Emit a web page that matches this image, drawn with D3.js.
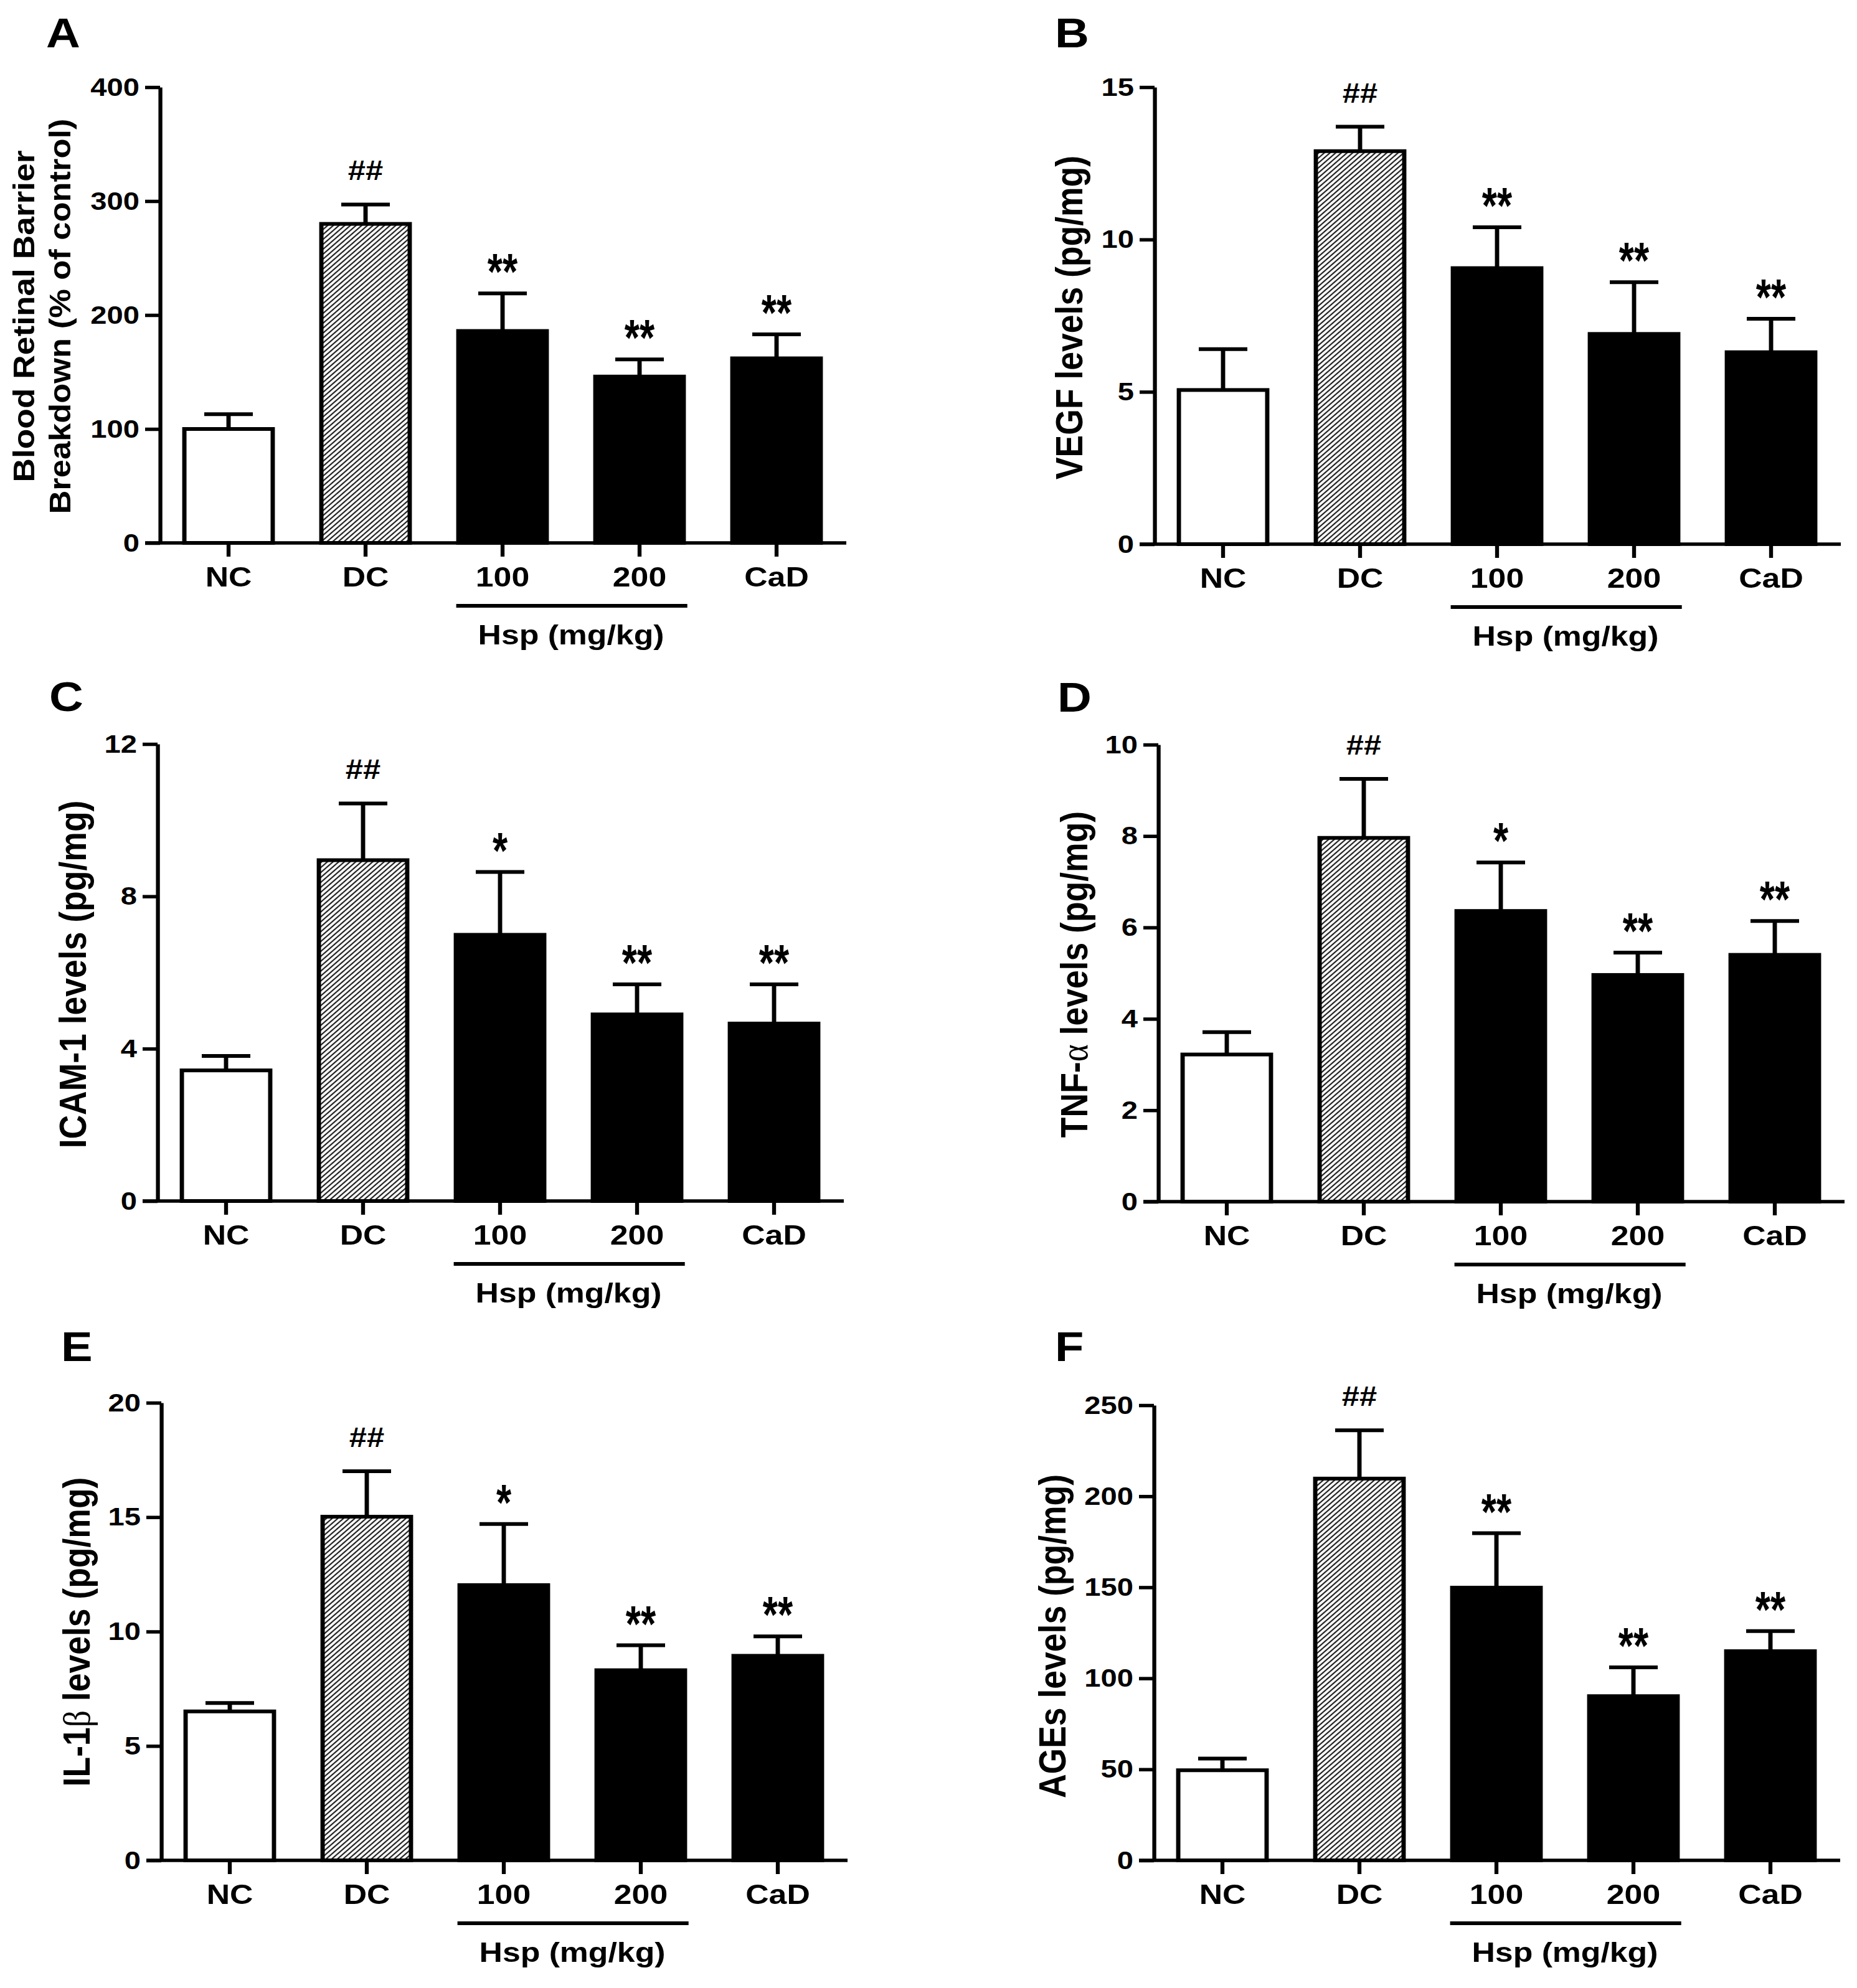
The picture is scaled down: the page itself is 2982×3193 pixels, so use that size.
<!DOCTYPE html>
<html><head><meta charset="utf-8">
<script src="https://cdn.jsdelivr.net/npm/d3@7"></script>
<style>
body{margin:0;background:#fff}
text{font-family:"Liberation Sans",Arial,Helvetica,sans-serif;font-weight:bold;fill:#000}
</style>
</head><body>
<svg id="chart" width="2982" height="3193"></svg>
<script>
// ---------------- data ----------------
const categories = ["NC", "DC", "100", "200", "CaD"];
const groupLabel = "Hsp (mg/kg)";

// A: Blood retinal barrier breakdown (% of control)
const brbMean = [100, 280, 186, 146, 162];
const brbSem  = [13, 17, 33, 15, 21];
const brbTicks = [0, 100, 200, 300, 400];
const brbMarks = ["", "##", "**", "**", "**"];

// B: VEGF (pg/mg)
const vegfMean = [5.06, 12.9, 9.06, 6.9, 6.3];
const vegfSem  = [1.34, 0.8, 1.34, 1.7, 1.1];
const vegfTicks = [0, 5, 10, 15];
const vegfMarks = ["", "##", "**", "**", "**"];

// C: ICAM-1 (pg/mg)
const icamMean = [3.43, 8.95, 6.99, 4.9, 4.66];
const icamSem  = [0.38, 1.49, 1.65, 0.79, 1.03];
const icamTicks = [0, 4, 8, 12];
const icamMarks = ["", "##", "*", "**", "**"];

// D: TNF-alpha (pg/mg)
const tnfMean = [3.22, 7.96, 6.36, 4.96, 5.40];
const tnfSem  = [0.49, 1.29, 1.06, 0.49, 0.74];
const tnfTicks = [0, 2, 4, 6, 8, 10];
const tnfMarks = ["", "##", "*", "**", "**"];

// E: IL-1beta (pg/mg)
const il1Mean = [6.51, 15.02, 12.03, 8.31, 8.94];
const il1Sem  = [0.37, 1.99, 2.67, 1.09, 0.85];
const il1Ticks = [0, 5, 10, 15, 20];
const il1Marks = ["", "##", "*", "**", "**"];

// F: AGEs (pg/mg)
const agesMean = [49.5, 209.7, 149.8, 90.2, 114.9];
const agesSem  = [6.4, 26.5, 29.9, 15.8, 11.0];
const agesTicks = [0, 50, 100, 150, 200, 250];
const agesMarks = ["", "##", "**", "**", "**"];

const panels = [
  {id:"A", mean:brbMean, sem:brbSem, ticks:brbTicks, marks:brbMarks,
   title:[["Blood Retinal Barrier"], ["Breakdown (% of control)"]]},
  {id:"B", mean:vegfMean, sem:vegfSem, ticks:vegfTicks, marks:vegfMarks,
   title:[["VEGF levels (pg/mg)"]]},
  {id:"C", mean:icamMean, sem:icamSem, ticks:icamTicks, marks:icamMarks,
   title:[["ICAM-1 levels (pg/mg)"]]},
  {id:"D", mean:tnfMean, sem:tnfSem, ticks:tnfTicks, marks:tnfMarks,
   title:[["TNF-", "α", " levels (pg/mg)"]]},
  {id:"E", mean:il1Mean, sem:il1Sem, ticks:il1Ticks, marks:il1Marks,
   title:[["IL-1", "β", " levels (pg/mg)"]]},
  {id:"F", mean:agesMean, sem:agesSem, ticks:agesTicks, marks:agesMarks,
   title:[["AGEs levels (pg/mg)"]]}
];

// ---------------- layout (screen px) ----------------
const SX = 1.15; // horizontal stretch of the original figure
const layout = {
  A:{ax:257,  top:140,  y0:872,  letter:[74,76],     titleX:[55,113], titleY:508, titleLen:[533,635], titleSize:41},
  B:{ax:1854, top:140,  y0:874,  letter:[1694,76],   titleX:[1738],   titleY:510},
  C:{ax:253,  top:1195, y0:1929, letter:[79,1142],   titleX:[138],    titleY:1565},
  D:{ax:1860, top:1196, y0:1930, letter:[1698,1143], titleX:[1746],   titleY:1565},
  E:{ax:259,  top:2253, y0:2988, letter:[98,2186],   titleX:[144],    titleY:2621},
  F:{ax:1853, top:2257, y0:2988, letter:[1694,2186], titleX:[1711],   titleY:2628}
};
const fills = ["#fff", "url(#hatch)", "#000", "#000", "#000"];

const svg = d3.select("#chart");
svg.append("rect").attr("width", 2982).attr("height", 3193).attr("fill", "#fff");
const defs = svg.append("defs");
const hs = 5.6;
const pat = defs.append("pattern").attr("id", "hatch")
  .attr("patternUnits", "userSpaceOnUse").attr("width", hs).attr("height", hs)
  .attr("patternTransform", "rotate(45)");
pat.append("rect").attr("width", hs).attr("height", hs).attr("fill", "#fff");
pat.append("line").attr("x1", hs/2).attr("y1", -1).attr("x2", hs/2).attr("y2", hs+1)
  .attr("stroke", "#000").attr("stroke-width", 1.8);

const root = svg.append("g").attr("transform", `scale(${SX},1)`);

const AX_W = 5.5, BAR_W = 6, ERR_W = 6;

panels.forEach(p => {
  const L = layout[p.id];
  const g = root.append("g");
  const ymax = p.ticks[p.ticks.length - 1];
  const x = d3.scaleBand().domain(categories)
    .range([L.ax / SX, (L.ax + 1100) / SX])
    .paddingInner(0.355).paddingOuter(0.1775);
  const y = d3.scaleLinear().domain([0, ymax]).range([L.y0, L.top]);
  const bw = x.bandwidth();
  const cx = c => x(c) + bw / 2;

  // bars
  g.selectAll("rect.bar").data(p.mean).join("rect").attr("class", "bar")
    .attr("x", (d, i) => x(categories[i]))
    .attr("y", d => y(d))
    .attr("width", bw)
    .attr("height", d => L.y0 - y(d))
    .attr("fill", (d, i) => fills[i])
    .attr("stroke", "#000").attr("stroke-width", BAR_W);

  // error bars (upper only)
  const capHalf = 39 / SX;
  const eb = g.selectAll("g.err").data(p.mean).join("g").attr("class", "err");
  eb.append("line")
    .attr("x1", (d, i) => cx(categories[i])).attr("x2", (d, i) => cx(categories[i]))
    .attr("y1", d => y(d)).attr("y2", (d, i) => y(d + p.sem[i]))
    .attr("stroke", "#000").attr("stroke-width", ERR_W);
  eb.append("line")
    .attr("x1", (d, i) => cx(categories[i]) - capHalf).attr("x2", (d, i) => cx(categories[i]) + capHalf)
    .attr("y1", (d, i) => y(d + p.sem[i])).attr("y2", (d, i) => y(d + p.sem[i]))
    .attr("stroke", "#000").attr("stroke-width", ERR_W);

  // significance marks
  p.marks.forEach((m, i) => {
    if (!m) return;
    const capY = y(p.mean[i] + p.sem[i]);
    const c = cx(categories[i]);
    if (m[0] === "#") {
      g.append("text").attr("x", c).attr("y", capY - 39)
        .attr("text-anchor", "middle").attr("font-size", 44).text(m);
    } else {
      g.append("text").attr("transform", `translate(${c},${capY - 7}) scale(1,1.5)`)
        .attr("text-anchor", "middle").attr("font-size", 54).text(m);
    }
  });

  // y axis
  const yAxis = g.append("g").attr("transform", `translate(${L.ax / SX},0)`)
    .call(d3.axisLeft(y).tickValues(p.ticks).tickSize(24 / SX).tickSizeOuter(0).tickPadding(9 / SX));
  yAxis.select(".domain").attr("stroke-width", AX_W).attr("stroke", "#000");
  yAxis.selectAll(".tick line").attr("stroke-width", AX_W).attr("stroke", "#000");
  yAxis.selectAll(".tick text").attr("font-size", 41);
  yAxis.attr("font-family", null).attr("font-size", null);

  // x axis
  const xAxis = g.append("g").attr("transform", `translate(0,${L.y0})`)
    .call(d3.axisBottom(x).tickSize(22).tickSizeOuter(0).tickPadding(16));
  xAxis.select(".domain").remove();
  xAxis.selectAll(".tick line").attr("stroke-width", AX_W).attr("stroke", "#000");
  xAxis.selectAll(".tick text").attr("font-size", 45);
  xAxis.attr("font-family", null).attr("font-size", null);
  g.append("line").attr("x1", (L.ax - 24) / SX).attr("x2", (L.ax + 1102) / SX)
    .attr("y1", L.y0).attr("y2", L.y0).attr("stroke", "#000").attr("stroke-width", AX_W);

  // group underline + label
  const gx1 = x("100") - 3, gx2 = x("200") + bw + 5;
  g.append("line").attr("x1", gx1).attr("x2", gx2)
    .attr("y1", L.y0 + 101).attr("y2", L.y0 + 101)
    .attr("stroke", "#000").attr("stroke-width", 6);
  g.append("text").attr("x", (cx("100") + cx("200")) / 2).attr("y", L.y0 + 163)
    .attr("text-anchor", "middle").attr("font-size", 45).text(groupLabel);

  // y title
  p.title.forEach((parts, li) => {
    const t = g.append("text")
      .attr("transform", `translate(${L.titleX[li] / SX},${L.titleY}) rotate(-90)`)
      .attr("text-anchor", "middle")
      .attr("font-size", L.titleSize || 53.5);
    if (L.titleLen) t.attr("textLength", L.titleLen[li]).attr("lengthAdjust", "spacingAndGlyphs");
    parts.forEach((s, k) => {
      const ts = t.append("tspan").text(s);
      if (parts.length === 3 && k === 1) {
        ts.attr("font-family", "'Liberation Serif','DejaVu Serif',serif").attr("font-weight", "normal");
      }
    });
  });

  // panel letter
  g.append("text").attr("x", L.letter[0] / SX).attr("y", L.letter[1])
    .attr("font-size", 66).text(p.id);
});
</script>
</body></html>
